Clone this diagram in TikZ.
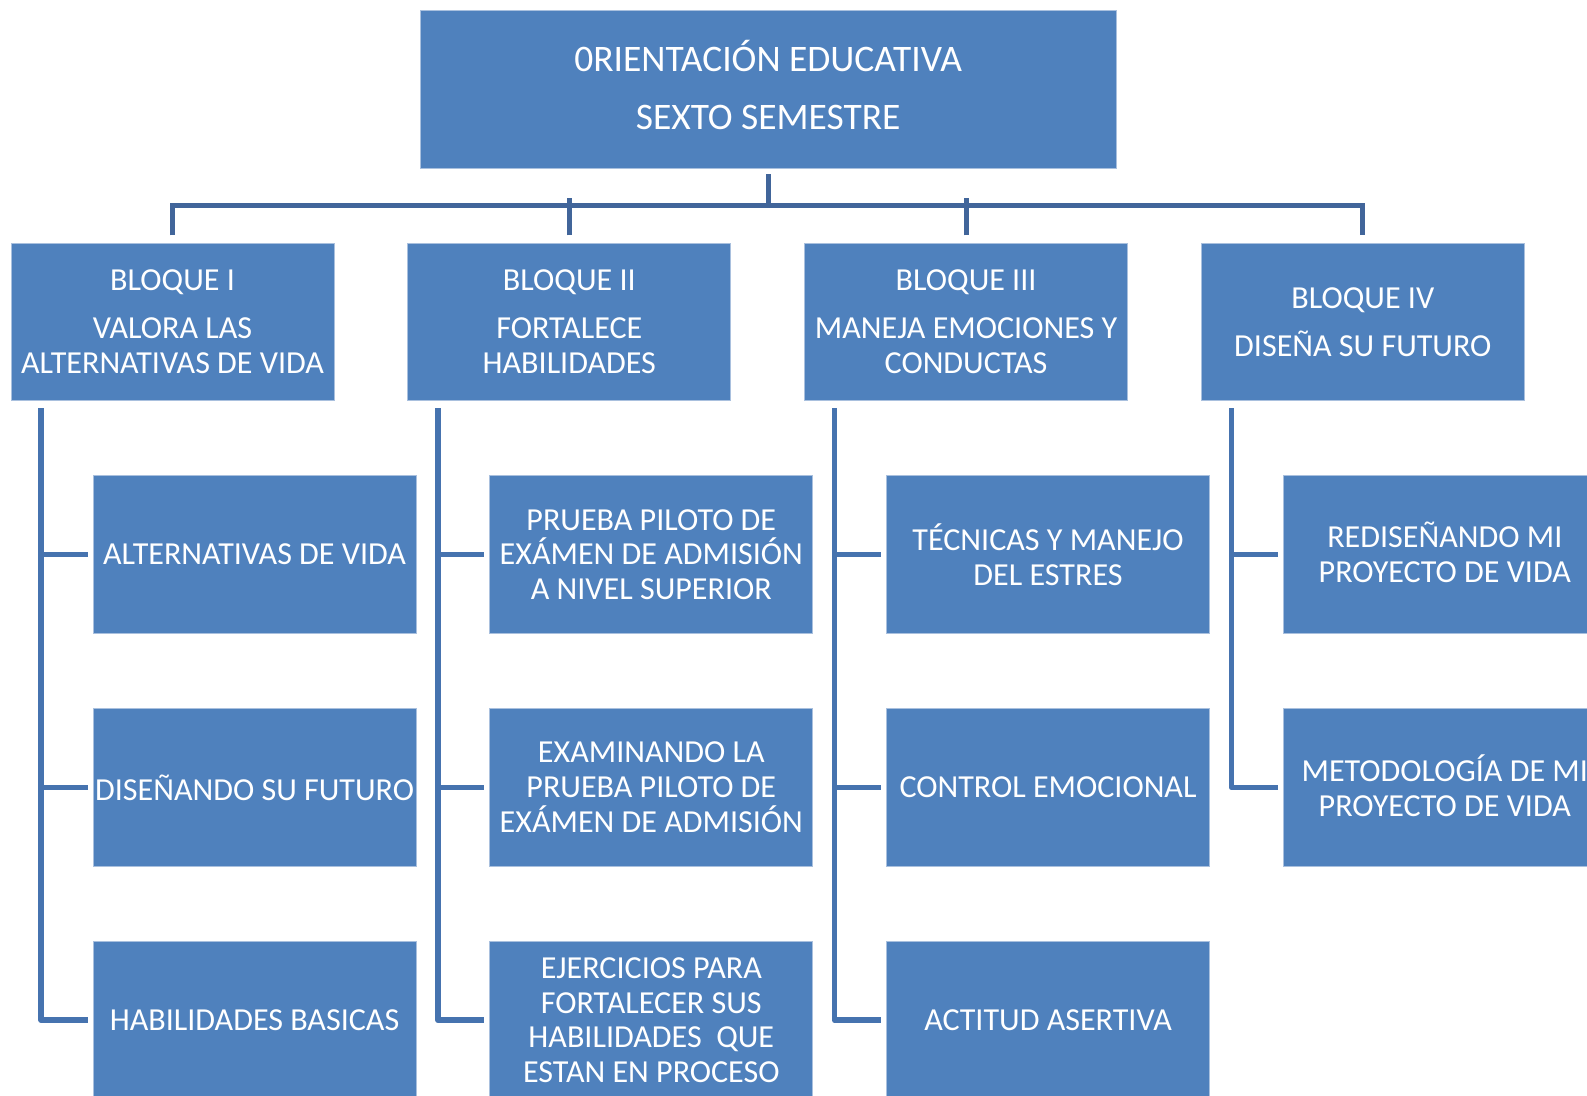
\documentclass[tikz,border=0pt]{standalone}
\usepackage{fontspec}
\setmainfont{Carlito}
\definecolor{boxfill}{HTML}{4F81BD}
\definecolor{boxedge}{HTML}{A9C0DE}
\definecolor{topline}{HTML}{41659A}
\definecolor{sideline}{HTML}{4673AF}
\tikzset{
  ebox/.style={rectangle, fill=boxfill, draw=boxedge, line width=0.8pt,
    minimum width=319pt, minimum height=156pt, inner sep=0pt,
    text=white, align=center, font=\fontsize{31.7}{34.5}\selectfont},
  boxtext/.style={text=white, align=center, inner sep=0pt, font=\fontsize{31.7}{34.5}\selectfont},
  topcon/.style={draw=topline, line width=5pt},
  sidecon/.style={draw=sideline, line width=5.5pt, line join=round},
}
\begin{document}
\begin{tikzpicture}[x=1pt,y=-1pt]
\useasboundingbox (0,0) rectangle (1568,1082);
\clip (0,0) rectangle (1568,1082);
% title
\node[ebox, minimum width=688pt] (title) at (759,88) {};
\node[boxtext, font=\fontsize{37}{57}\selectfont] (titletext) at (759,84)
  {0RIENTACIÓN EDUCATIVA\\SEXTO SEMESTRE};
% bloques
\node[ebox] (b1) at (170.5,318) {BLOQUE I\\[13pt]VALORA LAS\\ALTERNATIVAS DE VIDA};
\node[ebox] (b2) at (562.5,318) {BLOQUE II\\[13pt]FORTALECE\\HABILIDADES};
\node[ebox] (b3) at (954.5,318) {BLOQUE III\\[13pt]MANEJA EMOCIONES Y\\CONDUCTAS};
\node[ebox] (b4) at (1346.5,318) {BLOQUE IV\\[13pt]DISEÑA SU FUTURO};
% children
\node[ebox] (c11) at (251.5,548) {ALTERNATIVAS DE VIDA};
\node[ebox] (c12) at (251.5,778) {DISEÑANDO SU FUTURO};
\node[ebox] (c13) at (251.5,1008) {HABILIDADES BASICAS};
\node[ebox] (c21) at (643.5,548) {PRUEBA PILOTO DE\\EXÁMEN DE ADMISIÓN\\A NIVEL SUPERIOR};
\node[ebox] (c22) at (643.5,778) {EXAMINANDO LA\\PRUEBA PILOTO DE\\EXÁMEN DE ADMISIÓN};
\node[ebox] (c23) at (643.5,1008) {EJERCICIOS PARA\\FORTALECER SUS\\HABILIDADES\ \ QUE\\ESTAN EN PROCESO};
\node[ebox] (c31) at (1035.5,548) {TÉCNICAS Y MANEJO\\DEL ESTRES};
\node[ebox] (c32) at (1035.5,778) {CONTROL EMOCIONAL};
\node[ebox] (c33) at (1035.5,1008) {ACTITUD ASERTIVA};
\node[ebox] (c41) at (1427.5,548) {};
\node[boxtext] (c41text) at (1427.5,546) {REDISEÑANDO MI\\PROYECTO DE VIDA};
\node[ebox] (c42) at (1427.5,778) {};
\node[boxtext] (c42text) at (1427.5,776) {METODOLOGÍA DE MI\\PROYECTO DE VIDA};
% top connectors
\coordinate (tj) at (759,203);
\draw[topcon] ([yshift=-6pt]title.south) -- (tj);
\draw[topcon] ([yshift=7pt]b1.north) |- (tj) -| ([yshift=7pt]b4.north);
\draw[topcon] ([yshift=7pt]b2.north) -- ([yshift=7pt]b2.north |- tj);
\draw[topcon] ([yshift=7pt]b3.north) -- ([yshift=7pt]b3.north |- tj);
% side connectors
\foreach \b/\last/\others in {b1/c13/{c11,c12}, b2/c23/{c21,c22}, b3/c33/{c31,c32}, b4/c42/{c41}}{
  \coordinate (v) at ([xshift=30pt,yshift=-7pt]\b.south west);
  \draw[sidecon] (v) |- ([xshift=-5pt]\last.west);
  \foreach \c in \others {
    \draw[sidecon] (\c.west -| v) -- ([xshift=-5pt]\c.west);
  }
}
\end{tikzpicture}
\end{document}
